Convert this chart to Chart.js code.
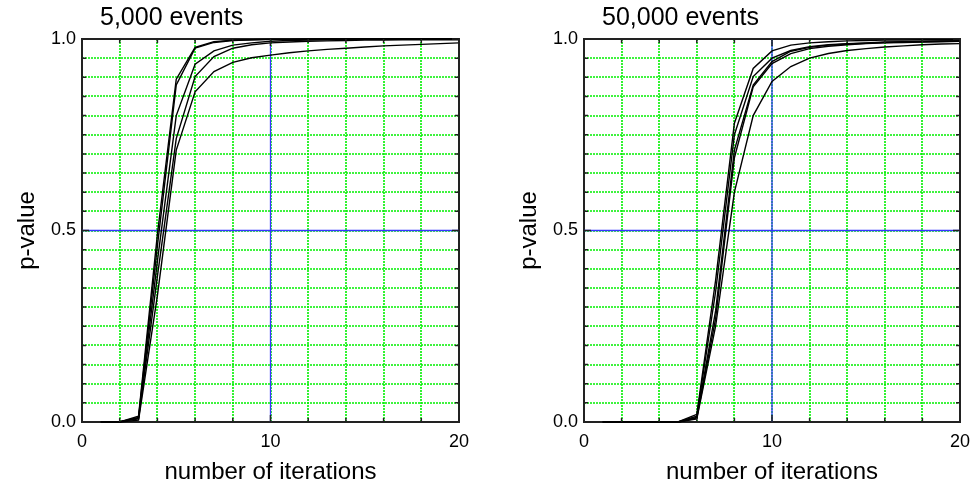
<!DOCTYPE html>
<html><head><meta charset="utf-8">
<script src="https://cdn.jsdelivr.net/npm/chart.js@4/dist/chart.umd.min.js"></script>
<style>
html,body{margin:0;padding:0;background:#fff;}
#wrap{width:972px;height:487px;display:flex;}
canvas{display:block;}
</style></head><body>
<div id="wrap"><canvas id="c1" width="486" height="487"></canvas><canvas id="c2" width="486" height="487"></canvas></div>
<script>
// ---- data ----
const iterations = [1,2,3,4,5,6,7,8,9,10,11,12,13,14,15,16,17,18,19,20];
const panelTitles = ['5,000 events', '50,000 events'];
const xAxisTitle = 'number of iterations';
const yAxisTitle = 'p-value';
const xLabeledTicks = [0, 10, 20];
const yLabeledTicks = [0, 0.5, 1];
const refIteration = 10;
const refPValue = 0.5;

const ev5k_1 = [0,0,0.015,0.49,0.895,0.978,0.993,0.997,0.998,0.999,0.999,1,1,1,1,1,1,1,1,1];
const ev5k_2 = [0,0,0.012,0.46,0.88,0.976,0.991,0.996,0.998,0.999,0.999,0.999,1,1,1,1,1,1,1,1];
const ev5k_3 = [0,0.001,0.01,0.42,0.80,0.934,0.969,0.984,0.99,0.994,0.996,0.997,0.998,0.998,0.999,0.999,0.999,0.999,1,1];
const ev5k_4 = [0,0.001,0.008,0.38,0.74,0.902,0.954,0.976,0.985,0.99,0.992,0.994,0.995,0.996,0.997,0.997,0.998,0.998,0.998,0.998];
const ev5k_5 = [0,0,0.005,0.33,0.71,0.862,0.915,0.939,0.951,0.958,0.964,0.969,0.973,0.976,0.979,0.982,0.984,0.986,0.988,0.99];

const ev50k_1 = [0,0,0,0,0,0.02,0.37,0.78,0.923,0.969,0.984,0.99,0.993,0.995,0.996,0.997,0.997,0.998,0.998,0.998];
const ev50k_2 = [0,0,0,0,0,0.015,0.34,0.75,0.902,0.95,0.97,0.98,0.985,0.988,0.99,0.992,0.993,0.994,0.995,0.995];
const ev50k_3 = [0,0,0,0,0,0.012,0.29,0.71,0.88,0.941,0.968,0.978,0.984,0.987,0.989,0.991,0.992,0.993,0.994,0.995];
const ev50k_4 = [0,0,0,0,0,0.01,0.27,0.69,0.875,0.936,0.962,0.975,0.981,0.985,0.988,0.99,0.991,0.992,0.993,0.994];
const ev50k_5 = [0,0,0,0,0,0.008,0.25,0.6,0.8,0.889,0.928,0.95,0.962,0.97,0.975,0.979,0.982,0.985,0.987,0.988];

// ---- chart ----
const FONT = "'Liberation Sans', Arial, sans-serif";
const GREEN = '#00f000';
const BLUE = '#3535ff';

function isLabeled(v, list){ return list.some(t => Math.abs(t - v) < 1e-6); }

const framePlugin = {
  id: 'frame',
  beforeDatasetsDraw(chart){
    const {ctx, chartArea:{left,top,right,bottom}, scales:{x,y}} = chart;
    ctx.save();
    // dotted green grid
    ctx.strokeStyle = GREEN;
    ctx.lineWidth = 1.6;
    ctx.setLineDash([2,1]);
    ctx.beginPath();
    x.ticks.forEach(t => {
      const px = Math.round(x.getPixelForValue(t.value));
      ctx.moveTo(px, top); ctx.lineTo(px, bottom);
    });
    y.ticks.forEach(t => {
      const py = Math.round(y.getPixelForValue(t.value));
      ctx.moveTo(left, py); ctx.lineTo(right, py);
    });
    ctx.stroke();
    ctx.setLineDash([]);
    // frame
    ctx.strokeStyle = '#222';
    ctx.lineWidth = 2;
    ctx.strokeRect(left, top, right-left, bottom-top);
    ctx.restore();
  },
  afterDatasetsDraw(chart){
    const {ctx, chartArea:{left,top,right,bottom}, scales:{x,y}} = chart;
    ctx.save();
    ctx.strokeStyle = '#222';
    ctx.lineWidth = 1.5;
    ctx.beginPath();
    x.ticks.forEach(t => {
      const px = x.getPixelForValue(t.value);
      const L = isLabeled(t.value, xLabeledTicks) ? 7 : 4;
      ctx.moveTo(px, bottom); ctx.lineTo(px, bottom - L);
      ctx.moveTo(px, top); ctx.lineTo(px, top + L);
    });
    y.ticks.forEach(t => {
      const py = y.getPixelForValue(t.value);
      const L = isLabeled(t.value, yLabeledTicks) ? 7 : 4;
      ctx.moveTo(left, py); ctx.lineTo(left + L, py);
      ctx.moveTo(right, py); ctx.lineTo(right - L, py);
    });
    ctx.stroke();
    ctx.restore();
  },
  afterDraw(chart){
    const {ctx, chartArea:{left}} = chart;
    ctx.save();
    ctx.fillStyle = '#000';
    ctx.font = '25px ' + FONT;
    ctx.textAlign = 'left';
    ctx.textBaseline = 'alphabetic';
    ctx.fillText(chart.options.plugins.panelTitle.text, left + 18, 25);
    ctx.restore();
  }
};

function makeChart(id, title, seriesList, padLeft, padRight){
  const datasets = seriesList.map(s => ({
    data: iterations.map((it, i) => ({x: it, y: s[i]})),
    borderColor: '#000', borderWidth: 1.4, pointRadius: 0, fill: false,
    tension: 0, clip: 6
  }));
  datasets.push({
    data: [{x: refIteration, y: 0}, {x: refIteration, y: 1}],
    borderColor: BLUE, borderWidth: 1.3, pointRadius: 0, clip: 0
  });
  datasets.push({
    data: [{x: 0, y: refPValue}, {x: 20, y: refPValue}],
    borderColor: BLUE, borderWidth: 1.3, pointRadius: 0, clip: 0
  });
  return new Chart(document.getElementById(id), {
    type: 'line',
    data: { datasets },
    options: {
      responsive: false, animation: false, devicePixelRatio: 1,
      layout: { padding: { left: padLeft, right: padRight, top: 39, bottom: 0 } },
      plugins: { legend: {display:false}, tooltip: {enabled:false}, panelTitle: { text: title } },
      scales: {
        x: {
          type: 'linear', min: 0, max: 20,
          ticks: { stepSize: 2, autoSkip: false, maxRotation: 0, padding: 9,
            color: '#000', font: { family: FONT, size: 18 },
            callback: v => isLabeled(v, xLabeledTicks) ? String(v) : '' },
          grid: { display: false, drawTicks: false },
          border: { display: false },
          title: { display: true, text: xAxisTitle, color: '#000',
            font: { family: FONT, size: 24 }, padding: { top: 0, bottom: 0 } },
          afterFit: s => { s.height = 65; s.paddingLeft = 0; s.paddingRight = 0; }
        },
        y: {
          type: 'linear', min: 0, max: 1,
          ticks: { stepSize: 0.05, autoSkip: false, padding: 6,
            color: '#000', font: { family: FONT, size: 18 },
            callback: v => isLabeled(v, yLabeledTicks) ? v.toFixed(1) : '' },
          grid: { display: false, drawTicks: false },
          border: { display: false },
          title: { display: true, text: yAxisTitle, color: '#000',
            font: { family: FONT, size: 24 }, padding: { top: 13, bottom: 0 } },
          afterFit: s => { s.width = 82; s.paddingTop = 0; s.paddingBottom = 0; }
        }
      }
    },
    plugins: [framePlugin]
  });
}

makeChart('c1', panelTitles[0], [ev5k_1, ev5k_2, ev5k_3, ev5k_4, ev5k_5], 0, 27);
makeChart('c2', panelTitles[1], [ev50k_1, ev50k_2, ev50k_3, ev50k_4, ev50k_5], 16, 12);
</script>
</body></html>
